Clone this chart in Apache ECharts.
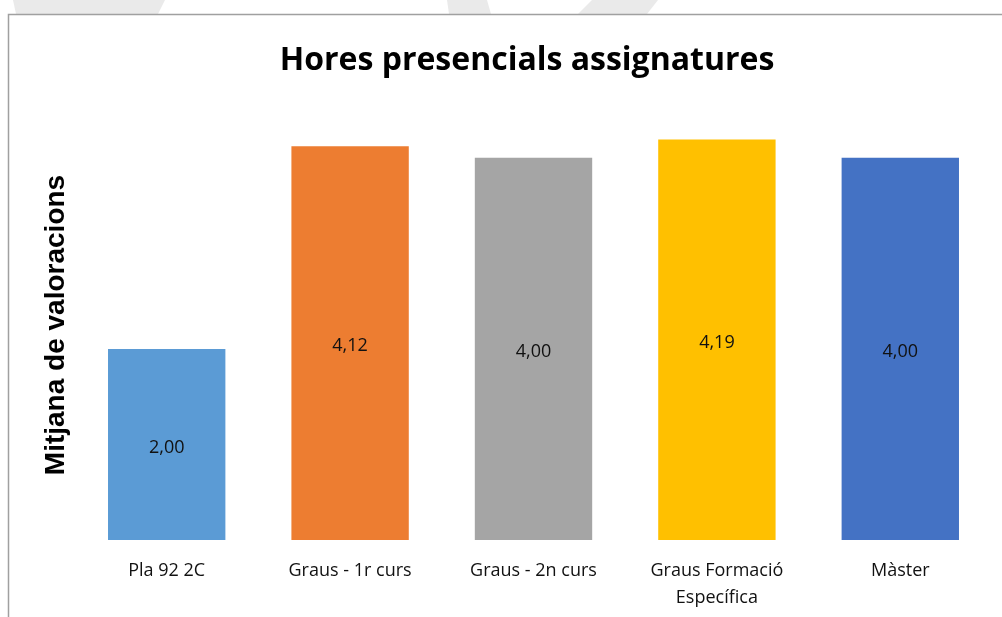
<!DOCTYPE html>
<html>
<head>
<meta charset="utf-8">
<script src="https://cdn.jsdelivr.net/npm/echarts@6/dist/echarts.min.js"></script>
<style>
html,body{margin:0;padding:0;background:#fff;}
#chart{width:1002px;height:617px;}
</style>
</head>
<body>
<div id="chart"></div>
<script>
const categories = ['Pla 92 2C', 'Graus - 1r curs', 'Graus - 2n curs', 'Graus Formació\nEspecífica', 'Màster'];
const values = [2.00, 4.12, 4.00, 4.19, 4.00];
const barColors = ['#5B9BD5', '#ED7D31', '#A5A5A5', '#FFC000', '#4472C4'];
const titleText = 'Hores presencials assignatures';
const yAxisName = 'Mitjana de valoracions';

const chart = echarts.init(document.getElementById('chart'), null, {renderer: 'canvas'});
const fontFam = '"Open Sans", "Liberation Sans", sans-serif';
chart.setOption({
  backgroundColor: '#fff',
  animation: false,
  title: {
    text: titleText,
    left: 522, top: 40, textAlign: 'center',
    textStyle: {fontFamily: fontFam, fontSize: 32, fontWeight: 'bold', color: '#000'}
  },
  graphic: [
    {type: 'polygon', silent: true, z: -1, shape: {points: [[13,0],[165,0],[158,14],[16,14]]}, style: {fill: '#eaeaea'}},
    {type: 'polygon', silent: true, z: -1, shape: {points: [[447,0],[487,0],[491,14],[449,14]]}, style: {fill: '#eaeaea'}},
    {type: 'polygon', silent: true, z: -1, shape: {points: [[592,0],[658,0],[647,14],[578,14]]}, style: {fill: '#eaeaea'}},
    {type: 'polyline', silent: true, shape: {points: [[8.5,617],[8.5,14.5],[1002,14.5]]}, style: {stroke: '#a0a0a0', lineWidth: 1.5, fill: null}}
  ],
  grid: {left: 75, right: 10, top: 110, bottom: 77, containLabel: false},
  xAxis: {
    type: 'category',
    data: categories,
    axisLine: {show: false},
    axisTick: {show: false},
    axisLabel: {margin: 17, fontFamily: fontFam, fontSize: 18, color: '#111', lineHeight: 27, interval: 0}
  },
  yAxis: {
    type: 'value',
    min: 0, max: 4.5,
    name: yAxisName,
    nameLocation: 'middle',
    nameGap: 5,
    nameRotate: 90,
    nameTextStyle: {fontFamily: '"Liberation Sans", Arial, sans-serif', fontSize: 28, fontWeight: 'bold', color: '#000'},
    axisLine: {show: false},
    axisTick: {show: false},
    axisLabel: {show: false},
    splitLine: {show: false}
  },
  series: [{
    type: 'bar',
    data: values.map((v, i) => ({value: v, itemStyle: {color: barColors[i]}})),
    barCategoryGap: '36%',
    label: {
      show: true,
      position: 'inside',
      offset: [0, 3],
      fontFamily: fontFam,
      fontSize: 18,
      color: '#111',
      formatter: p => p.value.toFixed(2).replace('.', ',')
    }
  }]
});
</script>
</body>
</html>
